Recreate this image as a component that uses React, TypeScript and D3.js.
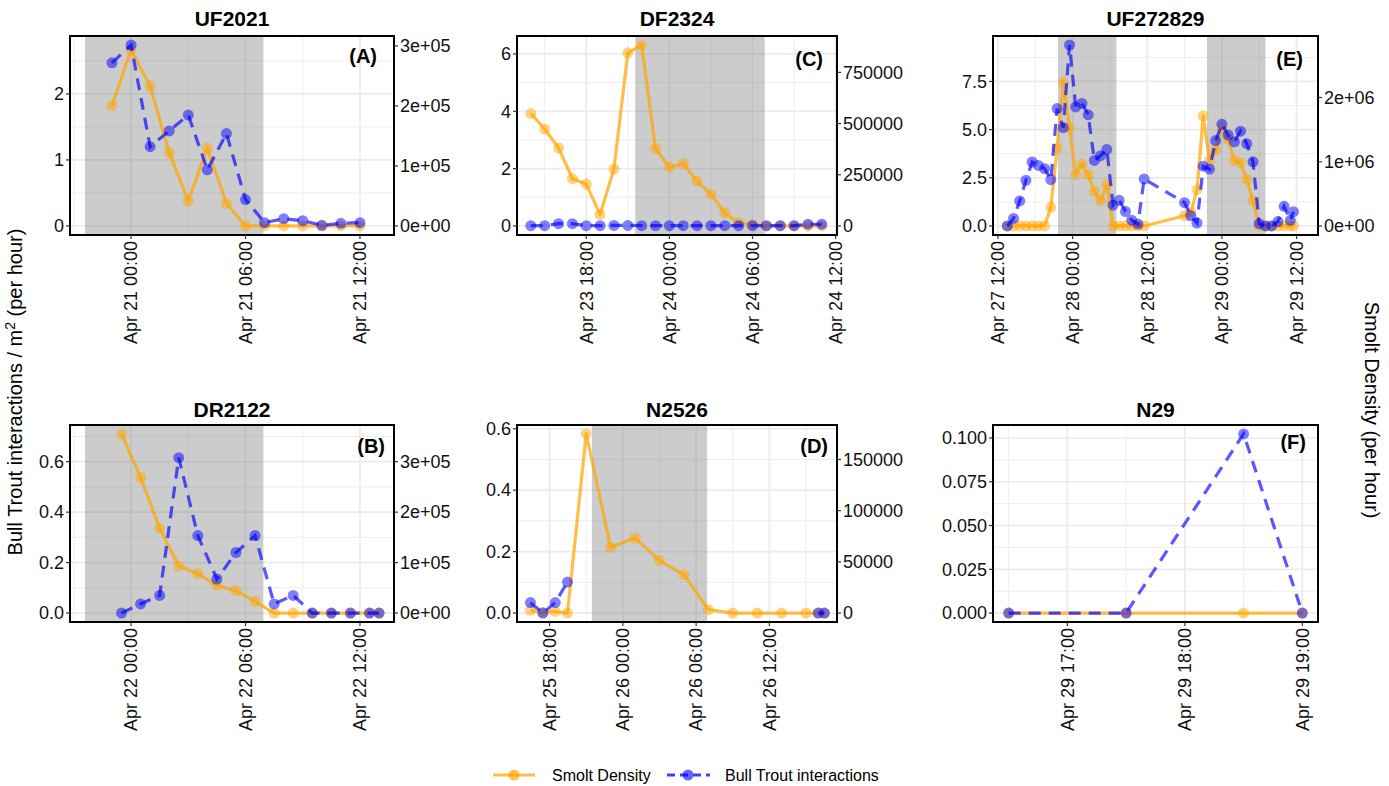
import React from "react";
import * as d3 from "d3";

// ---------------- DATA ----------------
// Panel A: UF2021
const ufTimes = ["2021-04-20T23:00","2021-04-21T00:00","2021-04-21T01:00","2021-04-21T02:00","2021-04-21T03:00","2021-04-21T04:00","2021-04-21T05:00","2021-04-21T06:00","2021-04-21T07:00","2021-04-21T08:00","2021-04-21T09:00","2021-04-21T10:00","2021-04-21T11:00","2021-04-21T12:00"];
const ufSmolt = [1.82, 2.67, 2.12, 1.11, 0.38, 1.18, 0.34, 0, 0, 0, 0, 0, 0, 0];
const ufBull = [2.47, 2.74, 1.2, 1.44, 1.68, 0.85, 1.4, 0.4, 0.05, 0.11, 0.08, 0.01, 0.04, 0.05];
const ufNights = [["2021-04-20T21:35", "2021-04-21T06:56"]];

// Panel B: DR2122
const drTimes = ["2021-04-21T23:30","2021-04-22T00:30","2021-04-22T01:30","2021-04-22T02:30","2021-04-22T03:30","2021-04-22T04:30","2021-04-22T05:30","2021-04-22T06:30","2021-04-22T07:30","2021-04-22T08:30","2021-04-22T09:30","2021-04-22T10:30","2021-04-22T11:30","2021-04-22T12:30","2021-04-22T13:00"];
const drSmolt = [0.71, 0.537, 0.336, 0.187, 0.156, 0.11, 0.088, 0.046, 0, 0, 0, 0, 0, 0, 0];
const drBull = [0, 0.036, 0.07, 0.616, 0.307, 0.135, 0.24, 0.307, 0.036, 0.07, 0, 0, 0, 0, 0];
const drNights = [["2021-04-21T21:35", "2021-04-22T06:56"]];

// Panel C: DF2324
const dfTimes = ["2021-04-23T14:00","2021-04-23T15:00","2021-04-23T16:00","2021-04-23T17:00","2021-04-23T18:00","2021-04-23T19:00","2021-04-23T20:00","2021-04-23T21:00","2021-04-23T22:00","2021-04-23T23:00","2021-04-24T00:00","2021-04-24T01:00","2021-04-24T02:00","2021-04-24T03:00","2021-04-24T04:00","2021-04-24T05:00","2021-04-24T06:00","2021-04-24T07:00","2021-04-24T08:00","2021-04-24T09:00","2021-04-24T10:00","2021-04-24T11:00"];
const dfSmolt = [3.92, 3.38, 2.72, 1.65, 1.46, 0.4, 1.99, 6.04, 6.31, 2.7, 2.05, 2.17, 1.56, 1.11, 0.46, 0.11, 0.05, 0, 0, 0, 0, 0];
const dfBull = [0.01, 0.01, 0.08, 0.08, 0.01, 0.01, 0.02, 0.02, 0.01, 0.01, 0.01, 0.01, 0.01, 0.01, 0.01, 0.01, 0.01, 0.01, 0.01, 0.01, 0.06, 0.06];
const dfNights = [["2021-04-23T21:32", "2021-04-24T06:53"]];

// Panel D: N2526
const n25Times = ["2021-04-25T16:26","2021-04-25T17:27","2021-04-25T18:28","2021-04-25T19:28","2021-04-25T21:00","2021-04-25T23:00","2021-04-26T01:00","2021-04-26T03:00","2021-04-26T05:00","2021-04-26T07:00","2021-04-26T09:00","2021-04-26T11:00","2021-04-26T13:00","2021-04-26T15:00","2021-04-26T16:00","2021-04-26T16:30"];
const n25Smolt = [0.009, 0.002, 0.005, 0, 0.583, 0.214, 0.244, 0.171, 0.125, 0.011, 0, 0, 0, 0, 0, 0];
const n25Bull = [0.034, 0, 0.034, 0.101, null, null, null, null, null, null, null, null, null, null, 0, 0];
const n25Nights = [["2021-04-25T21:28", "2021-04-26T06:54"]];

// Panel E: UF272829
const uf27Times = ["2021-04-27T13:30","2021-04-27T14:30","2021-04-27T15:30","2021-04-27T16:30","2021-04-27T17:30","2021-04-27T18:30","2021-04-27T19:30","2021-04-27T20:30","2021-04-27T21:30","2021-04-27T22:30","2021-04-27T23:30","2021-04-28T00:30","2021-04-28T01:30","2021-04-28T02:30","2021-04-28T03:30","2021-04-28T04:30","2021-04-28T05:30","2021-04-28T06:30","2021-04-28T07:30","2021-04-28T08:30","2021-04-28T09:30","2021-04-28T10:30","2021-04-28T11:30","2021-04-28T18:00","2021-04-28T19:00","2021-04-28T20:00","2021-04-28T21:00","2021-04-28T22:00","2021-04-28T23:00","2021-04-29T00:00","2021-04-29T01:00","2021-04-29T02:00","2021-04-29T03:00","2021-04-29T04:00","2021-04-29T05:00","2021-04-29T06:00","2021-04-29T07:00","2021-04-29T08:00","2021-04-29T09:00","2021-04-29T10:00","2021-04-29T11:00","2021-04-29T11:30"];
const uf27Smolt = [0, 0, 0, 0, 0, 0, 0, 0.97, 4.03, 7.47, 5.1, 2.66, 3.22, 2.66, 1.8, 1.3, 2.16, 0, 0, 0, 0, 0, 0, 0.53, 0.7, 1.88, 5.72, 3.4, 3.93, 5.1, 4.49, 3.4, 3.28, 2.4, 1.3, 0, 0, 0, 0, 0, 0, 0];
const uf27Bull = [0, 0.39, 1.3, 2.37, 3.32, 3.14, 2.97, 2.4, 6.09, 5.1, 9.39, 6.18, 6.36, 5.77, 3.4, 3.65, 3.97, 1.08, 1.33, 0.75, 0.3, 0.1, 2.44, 1.21, 0.53, 0.15, 3.1, 2.95, 4.43, 5.28, 4.72, 4.37, 4.92, 4.27, 3.33, 0.12, 0, 0, 0.23, 1.02, 0.29, 0.74];
const uf27Nights = [["2021-04-27T21:39", "2021-04-28T07:02"], ["2021-04-28T21:36", "2021-04-29T07:00"]];

// Panel F: N29
const n29Times = ["2021-04-29T16:30","2021-04-29T17:30","2021-04-29T18:30","2021-04-29T19:00"];
const n29Smolt = [0, 0, 0, 0];
const n29Bull = [0, 0, 0.1023, 0];
const n29Nights: string[][] = [];

// ---------------- STYLE / LAYOUT ----------------
const FONT = "'Liberation Sans', Arial, Helvetica, sans-serif";
const ORANGE = "#FFA500";
const BLUE = "#0000FF";
const parse = d3.timeParse("%Y-%m-%dT%H:%M");
const fmtX = d3.timeFormat("%b %d %H:%M");
const sci = (v: number) => {
  const s = v.toExponential(0);
  const [m, e] = s.split("e");
  return `${m}e${e[0]}${e.slice(1).padStart(2, "0")}`;
};
const plain = d3.format("d");

const panels = [
  { title: "UF2021", label: "(A)", times: ufTimes, smolt: ufSmolt, bull: ufBull, nights: ufNights,
    xDomain: ["2021-04-20T20:48", "2021-04-21T13:47"], xTicks: ["2021-04-21T00:00", "2021-04-21T06:00", "2021-04-21T12:00"],
    yTicks: [0, 1, 2], yFmt: d3.format("d"), secFactor: 110000, secTicks: [0, 1e5, 2e5, 3e5], secFmt: sci,
    box: { x0: 70, x1: 394, y0: 36, y1: 235 }, titleY: 26, lab: [17, 27] },
  { title: "DF2324", label: "(C)", times: dfTimes, smolt: dfSmolt, bull: dfBull, nights: dfNights,
    xDomain: ["2021-04-23T13:00", "2021-04-24T12:06"], xTicks: ["2021-04-23T18:00", "2021-04-24T00:00", "2021-04-24T06:00", "2021-04-24T12:00"],
    yTicks: [0, 2, 4, 6], yFmt: d3.format("d"), secFactor: 140000, secTicks: [0, 250000, 500000, 750000], secFmt: plain,
    box: { x0: 517, x1: 837, y0: 36, y1: 235 }, titleY: 26, lab: [14, 30] },
  { title: "UF272829", label: "(E)", times: uf27Times, smolt: uf27Smolt, bull: uf27Bull, nights: uf27Nights,
    xDomain: ["2021-04-27T11:12", "2021-04-29T15:27"], xTicks: ["2021-04-27T12:00", "2021-04-28T00:00", "2021-04-28T12:00", "2021-04-29T00:00", "2021-04-29T12:00"],
    yTicks: [0, 2.5, 5, 7.5], yFmt: d3.format(".1f"), secFactor: 300000, secTicks: [0, 1e6, 2e6], secFmt: sci,
    box: { x0: 993, x1: 1318, y0: 36, y1: 235 }, titleY: 26, lab: [15, 30] },
  { title: "DR2122", label: "(B)", times: drTimes, smolt: drSmolt, bull: drBull, nights: drNights,
    xDomain: ["2021-04-21T20:48", "2021-04-22T13:47"], xTicks: ["2021-04-22T00:00", "2021-04-22T06:00", "2021-04-22T12:00"],
    yTicks: [0, 0.2, 0.4, 0.6], yFmt: d3.format(".1f"), secFactor: 500000, secTicks: [0, 1e5, 2e5, 3e5], secFmt: sci,
    box: { x0: 70, x1: 394, y0: 425, y1: 622 }, titleY: 417, lab: [9, 28] },
  { title: "N2526", label: "(D)", times: n25Times, smolt: n25Smolt, bull: n25Bull, nights: n25Nights,
    xDomain: ["2021-04-25T15:20", "2021-04-26T17:32"], xTicks: ["2021-04-25T18:00", "2021-04-26T00:00", "2021-04-26T06:00", "2021-04-26T12:00"],
    yTicks: [0, 0.2, 0.4, 0.6], yFmt: d3.format(".1f"), secFactor: 300000, secTicks: [0, 50000, 100000, 150000], secFmt: plain,
    box: { x0: 517, x1: 837, y0: 425, y1: 622 }, titleY: 417, lab: [9, 28] },
  { title: "N29", label: "(F)", times: n29Times, smolt: n29Smolt, bull: n29Bull, nights: n29Nights,
    xDomain: ["2021-04-29T16:22", "2021-04-29T19:08"], xTicks: ["2021-04-29T17:00", "2021-04-29T18:00", "2021-04-29T19:00"],
    yTicks: [0, 0.025, 0.05, 0.075, 0.1], yFmt: d3.format(".3f"), secFactor: 0, secTicks: [] as number[], secFmt: plain,
    box: { x0: 993, x1: 1318, y0: 425, y1: 622 }, titleY: 417, lab: [12, 24] },
];

type Pt = { t: Date; v: number | null };

function Panel({ p, idx }: { p: any; idx: number }) {
  const { x0, x1, y0, y1 } = p.box;
  const xs = d3.scaleTime().domain(p.xDomain.map((s: string) => parse(s) as Date)).range([x0, x1]);
  const vals = [...p.smolt, ...p.bull].filter((v: any) => v != null) as number[];
  const lo = d3.min(vals) as number;
  const hi = d3.max(vals) as number;
  const pad = (hi - lo) * 0.05;
  const ys = d3.scaleLinear().domain([lo - pad, hi + pad]).range([y1, y0]);

  const majX = p.xTicks.map((s: string) => parse(s) as Date);
  const stepX = majX[1].getTime() - majX[0].getTime();
  const dom = xs.domain().map((d) => d.getTime());
  const minX = [majX[0].getTime() - stepX / 2, ...majX.map((d: Date) => d.getTime() + stepX / 2)]
    .filter((t) => t > dom[0] && t < dom[1]);
  const stepY = p.yTicks[1] - p.yTicks[0];
  const yd = ys.domain();
  const minY = [p.yTicks[0] - stepY / 2, ...p.yTicks.map((v: number) => v + stepY / 2)].filter((v) => v > yd[0] && v < yd[1]);

  const sm: Pt[] = p.times.map((s: string, i: number) => ({ t: parse(s) as Date, v: p.smolt[i] }));
  const bt: Pt[] = p.times.map((s: string, i: number) => ({ t: parse(s) as Date, v: p.bull[i] }));
  const line = d3.line<Pt>().defined((d) => d.v != null).x((d) => xs(d.t)).y((d) => ys(d.v as number));
  const clipId = `clip${idx}`;
  const cx = (x0 + x1) / 2;

  return (
    <g>
      <defs>
        <clipPath id={clipId}><rect x={x0} y={y0} width={x1 - x0} height={y1 - y0} /></clipPath>
      </defs>
      <rect x={x0} y={y0} width={x1 - x0} height={y1 - y0} fill="#fff" />
      {minY.map((v, i) => (
        <line key={"my" + i} x1={x0} x2={x1} y1={ys(v)} y2={ys(v)} stroke="#EBEBEB" strokeWidth={0.9} />
      ))}
      {minX.map((t, i) => (
        <line key={"mx" + i} x1={xs(new Date(t))} x2={xs(new Date(t))} y1={y0} y2={y1} stroke="#EBEBEB" strokeWidth={0.9} />
      ))}
      {p.yTicks.map((v: number, i: number) => (
        <line key={"gy" + i} x1={x0} x2={x1} y1={ys(v)} y2={ys(v)} stroke="#EBEBEB" strokeWidth={1.7} />
      ))}
      {majX.map((d: Date, i: number) => (
        <line key={"gx" + i} x1={xs(d)} x2={xs(d)} y1={y0} y2={y1} stroke="#EBEBEB" strokeWidth={1.7} />
      ))}
      <g clipPath={`url(#${clipId})`}>
        {p.nights.map((n: string[], i: number) => {
          const a = xs(parse(n[0]) as Date);
          const b = xs(parse(n[1]) as Date);
          return <rect key={"n" + i} x={a} y={y0} width={b - a} height={y1 - y0} fill="#7F7F7F" fillOpacity={0.4} />;
        })}
        <path d={line(sm) || ""} fill="none" stroke={ORANGE} strokeOpacity={0.72} strokeWidth={3.2} strokeLinejoin="round" />
        {sm.filter((d) => d.v != null).map((d, i) => (
          <circle key={"so" + i} cx={xs(d.t)} cy={ys(d.v as number)} r={5.5} fill={ORANGE} fillOpacity={0.5} />
        ))}
        <path d={line(bt) || ""} fill="none" stroke={BLUE} strokeOpacity={0.65} strokeWidth={3.2} strokeDasharray="12 8" />
        {bt.filter((d) => d.v != null).map((d, i) => (
          <circle key={"bo" + i} cx={xs(d.t)} cy={ys(d.v as number)} r={5.5} fill={BLUE} fillOpacity={0.5} />
        ))}
      </g>
      <rect x={x0} y={y0} width={x1 - x0} height={y1 - y0} fill="none" stroke="#000" strokeWidth={2} />
      {/* left axis */}
      {p.yTicks.map((v: number, i: number) => (
        <g key={"ly" + i}>
          <line x1={x0 - 4} x2={x0} y1={ys(v)} y2={ys(v)} stroke="#333" strokeWidth={1.2} />
          <text x={x0 - 6} y={ys(v)} dy="0.35em" textAnchor="end" fontSize={18} fill="#111" fontFamily={FONT}>{p.yFmt(v)}</text>
        </g>
      ))}
      {/* right axis */}
      {p.secFactor > 0 && p.secTicks.map((v: number, i: number) => (
        <g key={"ry" + i}>
          <line x1={x1} x2={x1 + 4} y1={ys(v / p.secFactor)} y2={ys(v / p.secFactor)} stroke="#333" strokeWidth={1.2} />
          <text x={x1 + 6} y={ys(v / p.secFactor)} dy="0.35em" textAnchor="start" fontSize={18} fill="#111" fontFamily={FONT}>{p.secFmt(v)}</text>
        </g>
      ))}
      {/* bottom axis */}
      {majX.map((d: Date, i: number) => (
        <g key={"bx" + i}>
          <line x1={xs(d)} x2={xs(d)} y1={y1} y2={y1 + 4} stroke="#333" strokeWidth={1.2} />
          <text transform={`translate(${xs(d)},${y1 + 6}) rotate(-90)`} dy="0.35em" textAnchor="end" fontSize={18} fill="#111" fontFamily={FONT}>{fmtX(d)}</text>
        </g>
      ))}
      <text x={cx} y={p.titleY} textAnchor="middle" fontSize={21} fontWeight="bold" fill="#000" fontFamily={FONT}>{p.title}</text>
      <text x={x1 - p.lab[0]} y={y0 + p.lab[1]} textAnchor="end" fontSize={20} fontWeight="bold" fill="#000" fontFamily={FONT}>{p.label}</text>
    </g>
  );
}

export default function App() {
  return (
    <svg width={1389} height={786} style={{ display: "block", position: "absolute", left: 0, top: 0, background: "#fff" }} fontFamily={FONT}>
      <rect x={0} y={0} width={1389} height={786} fill="#fff" />
      {panels.map((p, i) => <Panel key={i} p={p} idx={i} />)}
      <text transform="translate(22,392) rotate(-90)" textAnchor="middle" fontSize={20} fill="#000" fontFamily={FONT}>
        Bull Trout interactions / m<tspan dy={-7} fontSize={14}>2</tspan><tspan dy={7}> (per hour)</tspan>
      </text>
      <text transform="translate(1365,410) rotate(90)" textAnchor="middle" fontSize={20} fill="#000" fontFamily={FONT}>Smolt Density (per hour)</text>
      {/* legend */}
      <g>
        <line x1={493} x2={535} y1={775} y2={775} stroke={ORANGE} strokeOpacity={0.72} strokeWidth={3.2} />
        <circle cx={514} cy={775} r={5.5} fill={ORANGE} fillOpacity={0.7} />
        <text x={552} y={775} dy="0.35em" fontSize={16} fill="#000" fontFamily={FONT}>Smolt Density</text>
        <line x1={667} x2={710} y1={775} y2={775} stroke={BLUE} strokeOpacity={0.75} strokeWidth={3.2} strokeDasharray="8 5" />
        <circle cx={688} cy={775} r={5.5} fill={BLUE} fillOpacity={0.6} />
        <text x={725} y={775} dy="0.35em" fontSize={16} fill="#000" fontFamily={FONT}>Bull Trout interactions</text>
      </g>
    </svg>
  );
}
